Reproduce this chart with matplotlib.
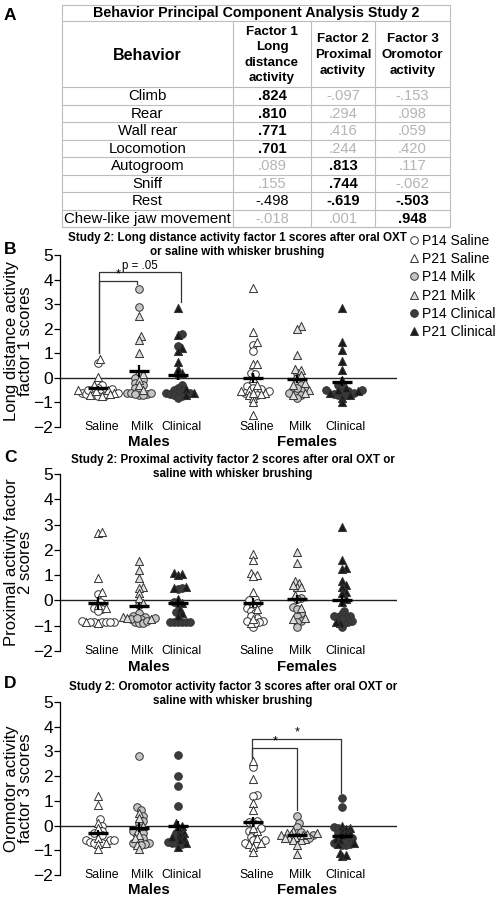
import numpy as np
import matplotlib
matplotlib.use("Agg")
import matplotlib.pyplot as plt
from matplotlib.lines import Line2D

plt.rcParams['font.family'] = ['Liberation Sans', 'DejaVu Sans']

W, H = 499, 900

# ---- table (panel A) ----
behaviors = ["Climb", "Rear", "Wall rear", "Locomotion", "Autogroom",
             "Sniff", "Rest", "Chew-like jaw movement"]
factor1 = [.824, .810, .771, .701, .089, .155, -.498, -.018]
factor2 = [-.097, .294, .416, .244, .813, .744, -.619, .001]
factor3 = [-.153, .098, .059, .420, .117, -.062, -.503, .948]
factor_headers = ["Factor 1\nLong\ndistance\nactivity",
                  "Factor 2\nProximal\nactivity",
                  "Factor 3\nOromotor\nactivity"]

# ---- scores, order: M saline, M milk, M clinical, F saline, F milk, F clinical ----
groups = ["Saline", "Milk", "Clinical"]
sexes = ["Males", "Females"]

f1_p14 = [
    [0.6, -0.2, -0.3, -0.4, -0.5, -0.55, -0.6, -0.6, -0.65, -0.7, -0.7, -0.75, -0.5, -0.45, -0.6],
    [3.6, 2.9, 0.1, 0.0, -0.1, -0.2, -0.3, -0.4, -0.5, -0.6, -0.6, -0.65, -0.7, -0.7, -0.65, -0.6],
    [1.8, 1.3, 0.1, -0.3, -0.4, -0.5, -0.55, -0.6, -0.6, -0.65, -0.7, -0.75, -0.8, -0.6],
    [1.35, 1.1, 0.2, 0.15, -0.2, -0.35, -0.4, -0.5, -0.55, -0.6, -0.45, -0.7],
    [0.2, 0.0, -0.2, -0.3, -0.4, -0.5, -0.5, -0.6, -0.7, -0.8, -0.6, -0.4],
    [-0.3, -0.4, -0.5, -0.55, -0.6, -0.65, -0.7, -0.7, -0.6, -0.5],
]
f1_p21 = [
    [0.75, 0.05, -0.3, -0.5, -0.55, -0.6, -0.65, -0.7, -0.75, -0.5],
    [2.5, 1.7, 1.55, 1.0, 0.15, -0.1, -0.3, -0.5],
    [2.85, 1.75, 1.2, 1.1, 0.65, 0.2, 0.35, -0.45, -0.6, -0.7],
    [3.65, 1.85, 1.45, 0.55, 0.55, 0.0, -0.3, -0.5, -0.55, -0.6, -0.65, -0.7, -0.8, -1.0, -1.5, -0.6],
    [2.1, 2.0, 0.95, 0.35, 0.3, 0.1, -0.2, -0.3, -0.5, -0.6, -0.7],
    [2.85, 1.45, 1.15, 0.7, 0.3, -0.1, -0.4, -0.5, -0.6, -0.7, -0.8, -1.0, -0.55],
]
f2_p14 = [
    [0.25, -0.05, -0.3, -0.35, -0.4, -0.85, -0.85, -0.85, -0.85, -0.85, -0.85, -0.8],
    [-0.2, -0.5, -0.6, -0.65, -0.7, -0.75, -0.85, -0.9, -0.9, -0.8, -0.75, -0.7],
    [0.45, 0.5, -0.05, -0.15, -0.45, -0.85, -0.85, -0.85, -0.85, -0.85, -0.85],
    [0.05, 0.0, -0.1, -0.3, -0.4, -0.5, -0.7, -0.8, -0.85, -1.05, -0.6, -0.9, -0.8],
    [0.1, 0.05, -0.25, -0.5, -0.6, -0.8, -0.85, -1.05, -0.35],
    [-0.4, -0.55, -0.6, -0.65, -0.7, -0.8, -0.85, -0.9, -1.05, -0.75, -0.6],
]
f2_p21 = [
    [2.65, 2.7, 0.9, 0.35, -0.2, -0.3, -0.9, -0.85],
    [1.55, 1.2, 0.9, 0.55, 0.5, 0.3, 0.1, -0.1, -0.65, -0.7, -0.75],
    [1.1, 1.05, 1.0, 0.55, 0.5, 0.05, -0.1, -0.35, -0.5, -0.6],
    [1.85, 1.6, 1.1, 1.0, 0.95, 0.35, -0.1, -0.35, -0.9, -0.75],
    [1.9, 1.5, 0.75, 0.7, 0.55, 0.6, 0.55, 0.2, -0.3, -0.75, -0.7],
    [2.9, 1.6, 1.3, 1.25, 0.75, 0.6, 0.55, 0.35, 0.3, 0.05, -0.05, -0.9, -0.85],
]
f3_p14 = [
    [0.25, 0.0, -0.2, -0.3, -0.4, -0.6, -0.6, -0.65, -0.7, -0.6, -0.7, -0.3],
    [2.8, 0.75, 0.65, 0.4, 0.2, 0.1, -0.1, -0.3, -0.5, -0.6, -0.7, -0.7, -0.75, -0.8, -0.2],
    [2.85, 2.0, 1.6, 0.8, -0.7, -0.7, -0.65, -0.75, -0.5, -0.3],
    [2.35, 1.25, 1.2, 0.2, 0.15, 0.1, 0.0, -0.1, -0.2, -0.3, -0.45, -0.6, -0.6, -0.7, -0.75],
    [0.4, 0.1, -0.05, -0.3, -0.4, -0.5, -0.6, -0.25],
    [1.1, 0.75, -0.05, -0.1, -0.3, -0.5, -0.6, -0.7, -0.75, -0.8, -0.8, -0.65],
]
f3_p21 = [
    [1.2, 0.85, 0.1, -0.1, -0.5, -0.75, -0.95, -0.7],
    [0.5, 0.3, 0.0, -0.25, -0.4, -0.5, -0.8, -0.95],
    [0.1, 0.0, -0.05, -0.2, -0.3, -0.4, -0.5, -0.6, -0.7, -0.85, -0.45],
    [2.6, 1.9, 0.9, 0.65, -0.2, -0.5, -0.7, -0.75, -0.85, -1.05, -0.1],
    [-0.2, -0.3, -0.35, -0.4, -0.45, -0.5, -0.55, -0.6, -0.5, -0.4, -0.45, -0.6, -0.35, -0.3, -0.8, -1.15],
    [0.0, -0.1, -0.15, -0.2, -0.3, -0.35, -0.4, -0.55, -0.6, -0.7, -0.75, -1.1, -1.25, -1.2],
]

fill_p14 = ['white', '#c4c4c4', '#3c3c3c']
fill_p21 = ['white', '#dedede', '#1a1a1a']
legend_labels = ["P14 Saline", "P21 Saline", "P14 Milk", "P21 Milk", "P14 Clinical", "P21 Clinical"]

centers = [0.97, 1.98, 2.98, 4.88, 5.98, 7.12]
XMAX = 8.5


def rect(x0, y0, x1, y1):
    return [x0 / W, 1 - y1 / H, (x1 - x0) / W, (y1 - y0) / H]


def swarm(vals, sx, sy, d=4.0, step=1.0):
    # simple beeswarm: offsets (data units) so markers of d px don't pile up
    vals = np.asarray(vals, float)
    placed = []
    offs = np.zeros(len(vals))
    for i in np.argsort(vals):
        y = vals[i] * sy
        k = 0
        while True:
            cands = [0.0] if k == 0 else [k * step, -k * step]
            hit = None
            for c in cands:
                if all((c - px) ** 2 + (y - py) ** 2 >= d ** 2 for px, py in placed):
                    hit = c
                    break
            if hit is not None:
                placed.append((hit, y))
                offs[i] = hit / sx
                break
            k += 1
    return offs


def draw_panel(ax, p14, p21, ylab, brackets):
    ax.patch.set_visible(False)
    ax.set_xlim(0, XMAX)
    ax.set_ylim(-2, 5)
    for s in ['top', 'right', 'bottom']:
        ax.spines[s].set_visible(False)
    ax.spines['left'].set_linewidth(0.9)
    ax.axhline(0, color='#222222', lw=1.0, zorder=1)
    bb = ax.get_position()
    sx = bb.width * W / XMAX
    sy = bb.height * H / 7.0
    for gi, c in enumerate(centers):
        a, b = p14[gi], p21[gi]
        k = gi % 3
        offs = swarm(a + b, sx, sy)
        ax.scatter(c + offs[:len(a)], a, marker='o', s=30, facecolor=fill_p14[k],
                   edgecolor='#333333', linewidth=0.7, zorder=3, clip_on=False)
        ax.scatter(c + offs[len(a):], b, marker='^', s=34, facecolor=fill_p21[k],
                   edgecolor='#333333', linewidth=0.7, zorder=3, clip_on=False)
        allv = np.array(a + b)
        sem = allv.std(ddof=1) / np.sqrt(len(allv))
        ax.errorbar(c, allv.mean(), yerr=sem, fmt='_', color='black', markersize=14,
                    mew=2.4, elinewidth=1.6, capsize=0, zorder=5)
        ax.text(c + 0.08, -2, groups[k], ha='center', va='center', fontsize=8.8, clip_on=False)
    for si, sex in enumerate(sexes):
        ax.text(centers[3 * si + 1] + 0.25, -2.62, sex, ha='center', va='center',
                fontsize=10.8, fontweight='bold', clip_on=False)
    ax.set_xticks([])
    ax.set_yticks(range(-2, 6))
    ax.tick_params(axis='y', direction='out', length=4, width=0.9, labelsize=12.5, pad=1)
    ax.set_ylabel(ylab, fontsize=12, linespacing=0.95, labelpad=0)
    for x0, x1, y0, ytop, y1, lab in brackets:
        ax.plot([x0, x0, x1, x1], [y0, ytop, ytop, y1], color='#333333', lw=0.9, clip_on=False)
        ax.text((x0 + x1) / 2, ytop + 0.02, lab,
                ha='center', va='bottom', fontsize=8.3 if lab != '*' else 9)


fig = plt.figure(figsize=(W / 100, H / 100), dpi=100)

ov = fig.add_axes([0, 0, 1, 1])
ov.set_xlim(0, W)
ov.set_ylim(H, 0)
ov.axis('off')

# ---- table ----
tl, tr = 62, 450
cols = [62, 233, 311, 375, 450]
row_top, title_bot, head_bot, rh = 5, 21, 87, 17.5
nrows = len(behaviors)
tb = head_bot + rh * nrows
lc = '#bdbdbd'
ov.plot([tl, tr, tr, tl, tl], [row_top, row_top, tb, tb, row_top], color=lc, lw=0.8)
ov.plot([tl, tr], [title_bot, title_bot], color=lc, lw=0.8)
for i in range(nrows + 1):
    yy = head_bot + rh * i
    ov.plot([tl, tr], [yy, yy], color=lc, lw=0.8)
for xx in cols[1:-1]:
    ov.plot([xx, xx], [title_bot, tb], color=lc, lw=0.8)
ov.text((tl + tr) / 2, (row_top + title_bot) / 2 + 0.5, "Behavior Principal Component Analysis Study 2",
        ha='center', va='center', fontsize=10.3, fontweight='bold')
hy = (title_bot + head_bot) / 2 + 1
ov.text((cols[0] + cols[1]) / 2, hy, "Behavior", ha='center', va='center', fontsize=11.5, fontweight='bold')
for j, txt in enumerate(factor_headers):
    ov.text((cols[j + 1] + cols[j + 2]) / 2, hy, txt, ha='center', va='center',
            fontsize=9.6, fontweight='bold', linespacing=1.4)


def fmt(v):
    s = f"{v:.3f}".replace("0.", ".", 1)
    return s


for i, beh in enumerate(behaviors):
    cy = head_bot + rh * (i + 0.5) + 0.5
    ov.text((cols[0] + cols[1]) / 2, cy, beh, ha='center', va='center', fontsize=10.8)
    for j, v in enumerate([factor1[i], factor2[i], factor3[i]]):
        if abs(v) >= 0.5:
            kw = dict(color='black', fontweight='bold')
        elif abs(v) >= 0.45:
            kw = dict(color='black')
        else:
            kw = dict(color='#b4b4b4')
        ov.text((cols[j + 1] + cols[j + 2]) / 2, cy, fmt(v), ha='center', va='center', fontsize=10.6, **kw)

# ---- panel letters and titles ----
for lab, yy in [("A", 15), ("B", 250), ("C", 458), ("D", 683)]:
    ov.text(4, yy, lab, ha='left', va='center', fontsize=12.5, fontweight='bold')

titles = [
    ("Study 2: Long distance activity factor 1 scores after oral OXT\nor saline with whisker brushing", 237, 245),
    ("Study 2: Proximal activity factor 2 scores after oral OXT or\nsaline with whisker brushing", 233, 467),
    ("Study 2: Oromotor activity factor 3 scores after oral OXT or\nsaline with whisker brushing", 233, 694),
]
for txt, xx, yy in titles:
    ov.text(xx, yy, txt, ha='center', va='center', fontsize=8.4, fontweight='bold', linespacing=1.2)

# ---- scatter panels ----
axB = fig.add_axes(rect(60, 255, 397, 427))
axC = fig.add_axes(rect(60, 474, 397, 651))
axD = fig.add_axes(rect(60, 702, 397, 875))

draw_panel(axB, f1_p14, f1_p21, "Long distance activity\nfactor 1 scores",
           [(0.99, 1.93, 1.0, 3.95, 3.8, '*'), (0.99, 3.04, 1.0, 4.3, 3.1, 'p = .05')])
draw_panel(axC, f2_p14, f2_p21, "Proximal activity factor\n2 scores", [])
draw_panel(axD, f3_p14, f3_p21, "Oromotor activity\nfactor 3 scores",
           [(4.85, 5.98, 2.75, 3.15, 0.63, '*'), (4.85, 7.1, 2.75, 3.52, 1.3, '*')])

# ---- legend ----
handles = []
for k in range(3):
    handles.append(Line2D([], [], ls='none', marker='o', markersize=5.5,
                          markerfacecolor=fill_p14[k], markeredgecolor='#333333', markeredgewidth=0.7))
    handles.append(Line2D([], [], ls='none', marker='^', markersize=6,
                          markerfacecolor=fill_p21[k], markeredgecolor='#333333', markeredgewidth=0.7))
fig.legend(handles, legend_labels, loc='upper left', bbox_to_anchor=(410 / W, 1 - 234 / H),
           frameon=False, fontsize=10, handlelength=0.6, handletextpad=0.25,
           labelspacing=0.3, borderpad=0, borderaxespad=0)

fig.savefig("out.png", dpi=100)
